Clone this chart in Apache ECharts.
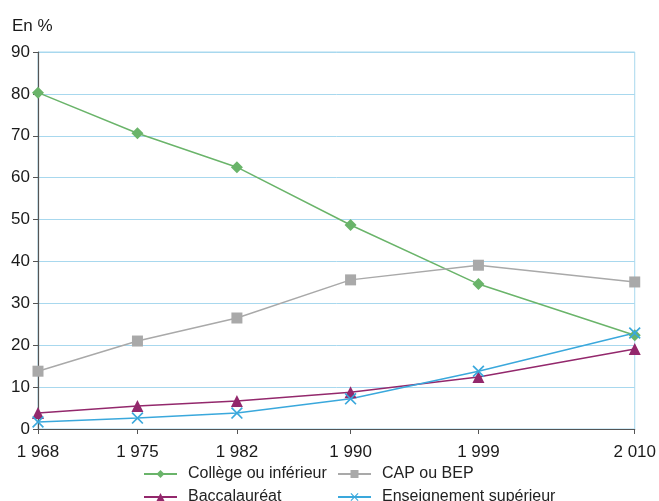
<!DOCTYPE html>
<html>
<head>
<meta charset="utf-8">
<script src="https://cdn.jsdelivr.net/npm/echarts@6/dist/echarts.min.js"></script>
<style>
  html, body { margin: 0; padding: 0; background: #fff; }
  #main { width: 659px; height: 501px; }
</style>
</head>
<body>
<div id="main"></div>
<script>
// années et parts (en %)
const years = [1968, 1975, 1982, 1990, 1999, 2010]
const college = [80.3, 70.6, 62.5, 48.7, 34.6, 22.4]
const capBep = [13.8, 21.0, 26.5, 35.6, 39.1, 35.1]
const bac = [3.8, 5.5, 6.7, 8.8, 12.4, 19.1]
const superieur = [1.7, 2.6, 3.8, 7.2, 13.8, 22.9]
const yTicks = [0, 10, 20, 30, 40, 50, 60, 70, 80, 90]

const font = "'Liberation Sans Narrow', 'Liberation Sans', Arial, sans-serif"
const crossPath = 'path://M0,1L1,0L5,4L9,0L10,1L6,5L10,9L9,10L5,6L1,10L0,9L4,5Z'

function pairs(values) {
  return years.map((y, i) => [y, values[i]])
}
function fmtYear(v) {
  return String(v).replace(/^(\d)(\d{3})$/, '$1 $2')
}
// une légende par entrée, placée à la main
function legendItem(name, left, top) {
  return {
    left: left,
    top: top,
    padding: 0,
    itemWidth: 33,
    itemHeight: 10,
    data: [name],
    textStyle: { fontFamily: font, fontSize: 16, color: '#222', padding: [0, 0, 0, 6] }
  }
}

const chart = echarts.init(document.getElementById('main'))
chart.setOption({
  animation: false,
  title: {
    text: 'En %',
    left: 12,
    top: 18,
    padding: 0,
    textStyle: { fontFamily: font, fontSize: 17, fontWeight: 'normal', color: '#1a1a1a' }
  },
  grid: {
    left: 38,
    right: 24,
    top: 52,
    bottom: 72,
    show: true,
    borderColor: '#a8d8ee',
    borderWidth: 1
  },
  legend: [
    legendItem('Collège ou inférieur', 143, 466),
    legendItem('CAP ou BEP', 337, 466),
    legendItem('Baccalauréat', 143, 489),
    legendItem('Enseignement supérieur', 337, 489)
  ],
  xAxis: {
    type: 'value',
    min: 1968,
    max: 2010,
    axisLine: { show: true, lineStyle: { color: '#555', width: 1.2 } },
    axisTick: { show: true, length: 5, customValues: years, lineStyle: { color: '#555' } },
    axisLabel: {
      customValues: years,
      formatter: fmtYear,
      margin: 15,
      fontFamily: font,
      fontSize: 17,
      color: '#1a1a1a'
    },
    splitLine: { show: false }
  },
  yAxis: {
    type: 'value',
    min: 0,
    max: 90,
    interval: 10,
    axisLine: { show: true, lineStyle: { color: '#555', width: 1.2 } },
    axisTick: { show: true, length: 5, lineStyle: { color: '#555' } },
    axisLabel: {
      customValues: yTicks,
      margin: 8,
      fontFamily: font,
      fontSize: 17,
      color: '#1a1a1a'
    },
    splitLine: { show: true, lineStyle: { color: '#a8d8ee', width: 1 } }
  },
  series: [
    {
      name: 'Collège ou inférieur',
      type: 'line',
      data: pairs(college),
      symbol: 'diamond',
      symbolSize: 12,
      color: '#6ab46a',
      lineStyle: { width: 1.5 }
    },
    {
      name: 'CAP ou BEP',
      type: 'line',
      data: pairs(capBep),
      symbol: 'rect',
      symbolSize: 11,
      color: '#a9a9a9',
      lineStyle: { width: 1.5 }
    },
    {
      name: 'Baccalauréat',
      type: 'line',
      data: pairs(bac),
      symbol: 'triangle',
      symbolSize: 12,
      color: '#93286c',
      lineStyle: { width: 1.5 }
    },
    {
      name: 'Enseignement supérieur',
      type: 'line',
      data: pairs(superieur),
      symbol: crossPath,
      symbolSize: 12,
      color: '#3aa8dc',
      lineStyle: { width: 1.5 }
    }
  ]
})
</script>
</body>
</html>
